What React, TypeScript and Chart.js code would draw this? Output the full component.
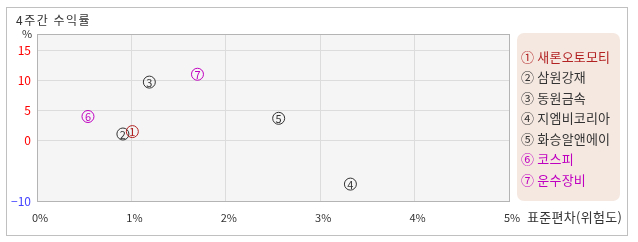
import { useEffect, useRef } from "react";
import { Chart, registerables } from "chart.js";
Chart.register(...registerables);

const names = ["새론오토모티", "삼원강재", "동원금속", "지엠비코리아", "화승알앤에이", "코스피", "운수장비"];
const marks = ["①", "②", "③", "④", "⑤", "⑥", "⑦"];
const digits = ["1", "2", "3", "4", "5", "6", "7"];
const riskX = [1.01, 0.91, 1.19, 3.32, 2.56, 0.54, 1.7];
const returnY = [1.5, 1.1, 9.7, -7.2, 3.7, 4.0, 11.0];
const colors = ["#b22222", "#333333", "#333333", "#333333", "#333333", "#c000c0", "#c000c0"];
const yTicks = [-10, 0, 5, 10, 15];
const xTicks = [0, 1, 2, 3, 4, 5];
const titleText = "4주간 수익률";
const xTitle = "표준편차(위험도)";
const yUnit = "%";

const FONT = "'Noto Sans CJK KR', 'DejaVu Sans', sans-serif";

const decor = {
  id: "decor",
  beforeDraw(chart: any) {
    const { ctx, chartArea: a } = chart;
    ctx.save();
    ctx.fillStyle = "#ffffff";
    ctx.fillRect(0, 0, chart.width, chart.height);
    ctx.strokeStyle = "#c0c0c0";
    ctx.lineWidth = 1;
    ctx.strokeRect(6.5, 7.5, 621, 228);
    ctx.fillStyle = "#f5f5f5";
    ctx.fillRect(a.left, a.top, a.right - a.left, a.bottom - a.top);
    ctx.restore();
  },
  afterDatasetsDraw(chart: any) {
    const { ctx } = chart;
    ctx.save();
    ctx.font = `11px ${FONT}`;
    ctx.textAlign = "center";
    ctx.textBaseline = "middle";
    chart.data.datasets.forEach((ds: any, i: number) => {
      const el = chart.getDatasetMeta(i).data[0];
      if (!el) return;
      ctx.fillStyle = colors[i];
      ctx.fillText(digits[i], el.x, el.y + 0.5);
    });
    ctx.restore();
  },
  afterDraw(chart: any) {
    const { ctx, chartArea: a } = chart;
    ctx.save();
    ctx.strokeStyle = "#b4b4b4";
    ctx.lineWidth = 1;
    ctx.strokeRect(Math.round(a.left) + 0.5, Math.round(a.top) + 0.5, Math.round(a.right - a.left), Math.round(a.bottom - a.top));
    ctx.fillStyle = "#333333";
    ctx.textBaseline = "middle";
    ctx.textAlign = "left";
    ctx.font = `12px ${FONT}`;
    ctx.letterSpacing = "1.5px";
    ctx.fillText(titleText, 16, 20);
    ctx.letterSpacing = "0px";
    ctx.font = `11px ${FONT}`;
    ctx.fillText(yUnit, 22, 34);
    ctx.font = `13px ${FONT}`;
    ctx.letterSpacing = "0.3px";
    ctx.fillText(xTitle, 527, 217);
    // legend box
    ctx.letterSpacing = "0px";
    ctx.fillStyle = "#f5e8e1";
    ctx.beginPath();
    (ctx as any).roundRect(517, 33, 103, 168, 7);
    ctx.fill();
    ctx.font = `13px ${FONT}`;
    ctx.letterSpacing = "0.2px";
    names.forEach((n, i) => {
      ctx.fillStyle = colors[i];
      ctx.fillText(marks[i] + " " + n, 521, 57 + i * 20.5);
    });
    ctx.restore();
  },
};

export default function App() {
  const ref = useRef<HTMLCanvasElement>(null);
  useEffect(() => {
    const chart = new Chart(ref.current!, {
      type: "scatter",
      data: {
        datasets: names.map((n, i) => ({
          label: n,
          data: [{ x: riskX[i], y: returnY[i] }],
          pointRadius: 6,
          pointHoverRadius: 6,
          borderWidth: 1,
          borderColor: colors[i],
          backgroundColor: "rgba(0,0,0,0)",
        })),
      },
      options: {
        responsive: false,
        animation: false,
        events: [],
        layout: { padding: { left: 0, top: 34, right: 129, bottom: 0 } },
        plugins: { legend: { display: false }, tooltip: { enabled: false }, title: { display: false } },
        scales: {
          x: {
            type: "linear",
            min: 0,
            max: 5,
            afterBuildTicks: (s: any) => {
              s.ticks = xTicks.map((v) => ({ value: v }));
            },
            afterFit: (s: any) => {
              s.height = 41;
            },
            grid: { color: "#dcdcdc", drawTicks: false },
            border: { color: "#b4b4b4" },
            ticks: {
              padding: 10,
              color: "#333333",
              font: { family: FONT, size: 11 },
              maxRotation: 0,
              labelOffset: 3,
              callback: (v: any) => v + "%",
            },
          },
          y: {
            type: "linear",
            min: -10,
            max: 17.67,
            afterBuildTicks: (s: any) => {
              s.ticks = yTicks.map((v) => ({ value: v }));
            },
            afterFit: (s: any) => {
              s.width = 37;
            },
            grid: { color: "#dcdcdc", drawTicks: false },
            border: { color: "#b4b4b4" },
            ticks: {
              padding: 6,
              font: { family: FONT, size: 12 },
              color: (c: any) => (c.tick && c.tick.value < 0 ? "#4444ff" : "#ff0000"),
              callback: (v: any) => String(v).replace("-", "−"),
            },
          },
        },
      },
      plugins: [decor],
    } as any);
    return () => chart.destroy();
  }, []);
  return (
    <div style={{ position: "fixed", left: 0, top: 0, width: 638, height: 242 }}>
      <canvas ref={ref} width={638} height={242} />
    </div>
  );
}
